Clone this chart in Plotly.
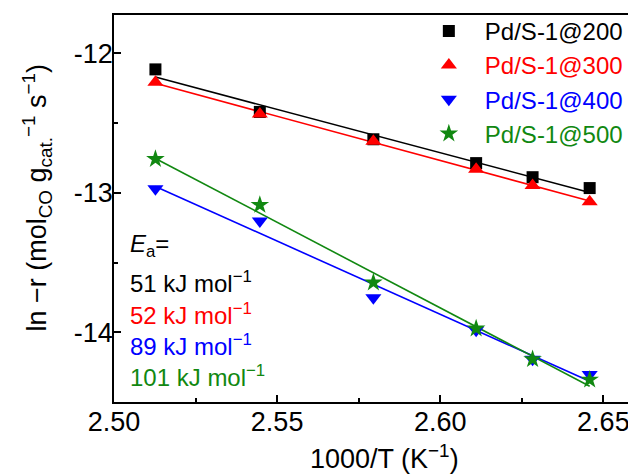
import numpy as np
import plotly.graph_objects as go

# Data (1000/T in K^-1, ln(-r))
x_vals = [2.5127, 2.5447, 2.5795, 2.6110, 2.6283, 2.6458]
y_200 = [-12.115, -12.420, -12.616, -12.787, -12.888, -12.966]
y_300 = [-12.207, -12.435, -12.631, -12.831, -12.948, -13.064]
y_400 = [-12.971, -13.202, -13.752, -13.985, -14.193, -14.303]
y_500 = [-12.758, -13.087, -13.643, -13.973, -14.193, -14.340]

names = ["Pd/S-1@200", "Pd/S-1@300", "Pd/S-1@400", "Pd/S-1@500"]
ea_labels = ["51", "52", "89", "101"]
y_ticks = [-14, -13, -12]
y_tick_text = ["-14", "-13", "-12"]
colors = ["#000000", "#ff0000", "#0000ff", "#118811"]
symbols = ["square", "triangle-up", "triangle-down", "star"]
sizes = [12, 14, 14, 14]
series = [y_200, y_300, y_400, y_500]

FONT = "Liberation Sans, Arial, sans-serif"

fig = go.Figure()

# fitted lines
for ys, c in zip(series, colors):
    k, b = np.polyfit(x_vals, ys, 1)
    xl = [min(x_vals), max(x_vals)]
    fig.add_trace(go.Scatter(x=xl, y=[k * v + b for v in xl], mode="lines",
                             line=dict(color=c, width=1.6), showlegend=False,
                             hoverinfo="skip"))

# markers
for ys, c, s, n, sz in zip(series, colors, symbols, names, sizes):
    fig.add_trace(go.Scatter(x=x_vals, y=ys, mode="markers",
                             marker=dict(symbol=s, color=c, size=sz, line=dict(width=0)),
                             name=f"<span style='color:{c}'>{n}</span>"))

# Ea annotations
fig.add_annotation(xref="paper", yref="paper", x=0.0268, y=0.4033,
                   xanchor="left", yanchor="middle", showarrow=False,
                   text="<i>E</i><sub>a</sub>=", font=dict(size=24, color="black", family=FONT))
ea_y = [0.3106, 0.2264, 0.1464, 0.0671]
for e, c, yy in zip(ea_labels, colors, ea_y):
    fig.add_annotation(xref="paper", yref="paper", x=0.0268, y=yy,
                       xanchor="left", yanchor="middle", showarrow=False,
                       text=f"{e} kJ mol<sup>−1</sup>",
                       font=dict(size=24, color=c, family=FONT))

# axis titles
fig.add_annotation(xref="paper", yref="paper", x=-0.148, y=0.5275,
                   xanchor="center", yanchor="middle", showarrow=False, textangle=-90,
                   text="ln −r (mol<sub>CO</sub> g<sub>cat.</sub><sup>−1</sup> s<sup>−1</sup>)",
                   font=dict(size=27, color="black", family=FONT))
fig.add_annotation(xref="paper", yref="paper", x=0.518, y=-0.142,
                   xanchor="center", yanchor="middle", showarrow=False,
                   text="1000/T (K<sup>−1</sup>)",
                   font=dict(size=27, color="black", family=FONT))

fig.update_layout(
    width=628, height=467,
    margin=dict(l=106, r=0, t=7, b=73),
    paper_bgcolor="white", plot_bgcolor="white",
    font=dict(family=FONT, size=27, color="black"),
    showlegend=True,
    legend=dict(x=0.5725, y=1.016, xanchor="left", yanchor="top",
                font=dict(size=24, family=FONT), itemwidth=62,
                bgcolor="rgba(0,0,0,0)", tracegroupgap=0),
    xaxis=dict(range=[2.50, 2.6600], tick0=2.5, dtick=0.05, tickformat=".2f",
               ticks="inside", ticklen=7, tickwidth=1.5, tickcolor="black",
               showline=True, linecolor="black", linewidth=1.5, mirror=True,
               showgrid=False, zeroline=False, ticklabelstandoff=-5,
               minor=dict(ticks="inside", ticklen=4, tickwidth=1.5, dtick=0.025,
                          tickcolor="black", showgrid=False)),
    yaxis=dict(range=[-14.5, -11.725], tickvals=y_ticks, ticktext=y_tick_text,
               ticks="inside", ticklen=7, tickwidth=1.5, tickcolor="black",
               showline=True, linecolor="black", linewidth=1.5, mirror=False,
               showgrid=False, zeroline=False, ticklabelstandoff=-6,
               minor=dict(ticks="inside", ticklen=4, tickwidth=1.5, dtick=0.5,
                          tickcolor="black", showgrid=False)),
)

fig.write_html("out.html")
